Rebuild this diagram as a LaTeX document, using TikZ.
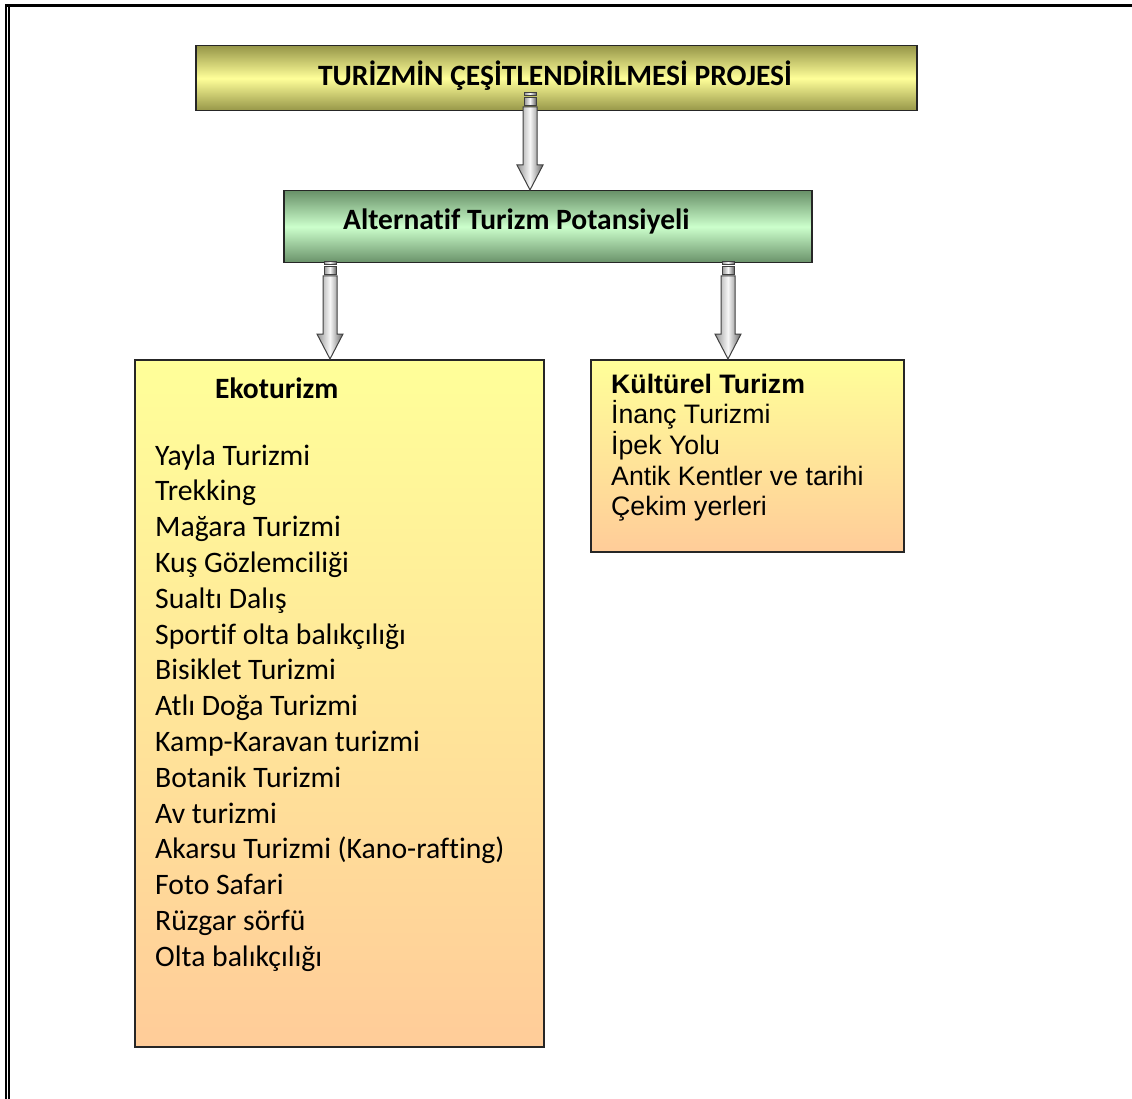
\documentclass[tikz,border=0pt]{standalone}
\usepackage{fontspec}
\setmainfont{Carlito}[Ligatures=NoCommon]
\newfontfamily\arialfont{Liberation Sans}
\usetikzlibrary{calc}

\definecolor{olivedark}{RGB}{150,150,72}
\definecolor{paleyellow}{RGB}{255,255,153}
\definecolor{greendark}{RGB}{105,145,105}
\definecolor{palegreen}{RGB}{204,255,204}
\definecolor{peach}{RGB}{255,204,153}

\tikzset{
  box/.style={draw=black!85, line width=1.5pt, anchor=north west, inner sep=0pt},
  projbox/.style={box, top color=olivedark, bottom color=olivedark, middle color=paleyellow},
  altbox/.style={box, top color=greendark, bottom color=greendark, middle color=palegreen},
  listbox/.style={box, top color=paleyellow, bottom color=peach},
  boldtxt/.style={anchor=base west, inner sep=0pt, font=\fontsize{29.5}{35}\selectfont\bfseries},
  listitem/.style={anchor=base west, inner sep=0pt, font=\fontsize{29.7}{35}\selectfont},
  kulthead/.style={anchor=base west, inner sep=0pt, font=\arialfont\fontsize{26.7}{31}\selectfont\bfseries},
  kultitem/.style={anchor=base west, inner sep=0pt, font=\arialfont\fontsize{26.7}{31}\selectfont},
  arrowbody/.style={draw=black!75, line width=1pt, left color=black!42, right color=black!60, middle color=black!3}
}

% block arrow from a start coordinate down to an end point
\newcommand{\blockarrow}[2]{%
  \draw[arrowbody] let \p1=(#1) in (\x1-6,\y1) rectangle (\x1+6,\y1-3);
  \draw[arrowbody] let \p1=(#1) in (\x1-6,\y1-5) rectangle (\x1+6,\y1-13);
  \draw[arrowbody] let \p1=(#1), \p2=(#2) in
    (\x1-7,\y1-14) -- (\x1-7,\y2+25) -- (\x1-13,\y2+25) -- (\x2,\y2)
    -- (\x1+13,\y2+25) -- (\x1+7,\y2+25) -- (\x1+7,\y1-14) -- cycle;
}

\begin{document}
\begin{tikzpicture}[x=1pt, y=-1pt]
        \useasboundingbox (0,0) rectangle (1132,1099);

        % page frame
        \fill (5,4) rectangle (1132,7);
        \fill (5,4) rectangle (7,1099);
        \fill (8.3,7) rectangle (9.6,1099);

        \node[projbox, minimum width=721, minimum height=65] (proj) at (195,45) {};
        \node[altbox, minimum width=528, minimum height=72] (alt) at (283,190) {};
        \node[listbox, minimum width=409, minimum height=687] (eko) at (134,359) {};
        \node[listbox, minimum width=313, minimum height=192] (kult) at (590,359) {};

        \node[boldtxt, anchor=base] (projtxt) at (555,85.5) {TURİZMİN ÇEŞİTLENDİRİLMESİ PROJESİ};
        \node[boldtxt] (alttxt) at (343,230) {Alternatif Turizm Potansiyeli};

        \coordinate (a1) at (530,93);
        \coordinate (a2) at (330,262);
        \coordinate (a3) at (728,262);
        \blockarrow{a1}{a1 |- alt.north}
        \blockarrow{a2}{a2 |- eko.north}
        \blockarrow{a3}{a3 |- kult.north}

        \node[boldtxt] (ekohead) at (215,398) {Ekoturizm};
        \foreach \lbl [count=\i] in {Yayla Turizmi, Trekking, Mağara Turizmi,
            Kuş Gözlemciliği, Sualtı Dalış, Sportif olta balıkçılığı,
            Bisiklet Turizmi, Atlı Doğa Turizmi, Kamp-Karavan turizmi,
            Botanik Turizmi, Av turizmi, Akarsu Turizmi (Kano-rafting),
            Foto Safari, Rüzgar sörfü, Olta balıkçılığı}
          \node[listitem] (eko\i) at (155,{465+35.8*(\i-1)}) {\lbl};

        \node[kulthead] (kulthd) at (611,393) {Kültürel Turizm};
        \foreach \lbl [count=\i] in {İnanç Turizmi, İpek Yolu,
            Antik Kentler ve tarihi, Çekim yerleri}
          \node[kultitem] (kult\i) at (611,{393+30.7*\i}) {\lbl};

      \end{tikzpicture}
\end{document}
